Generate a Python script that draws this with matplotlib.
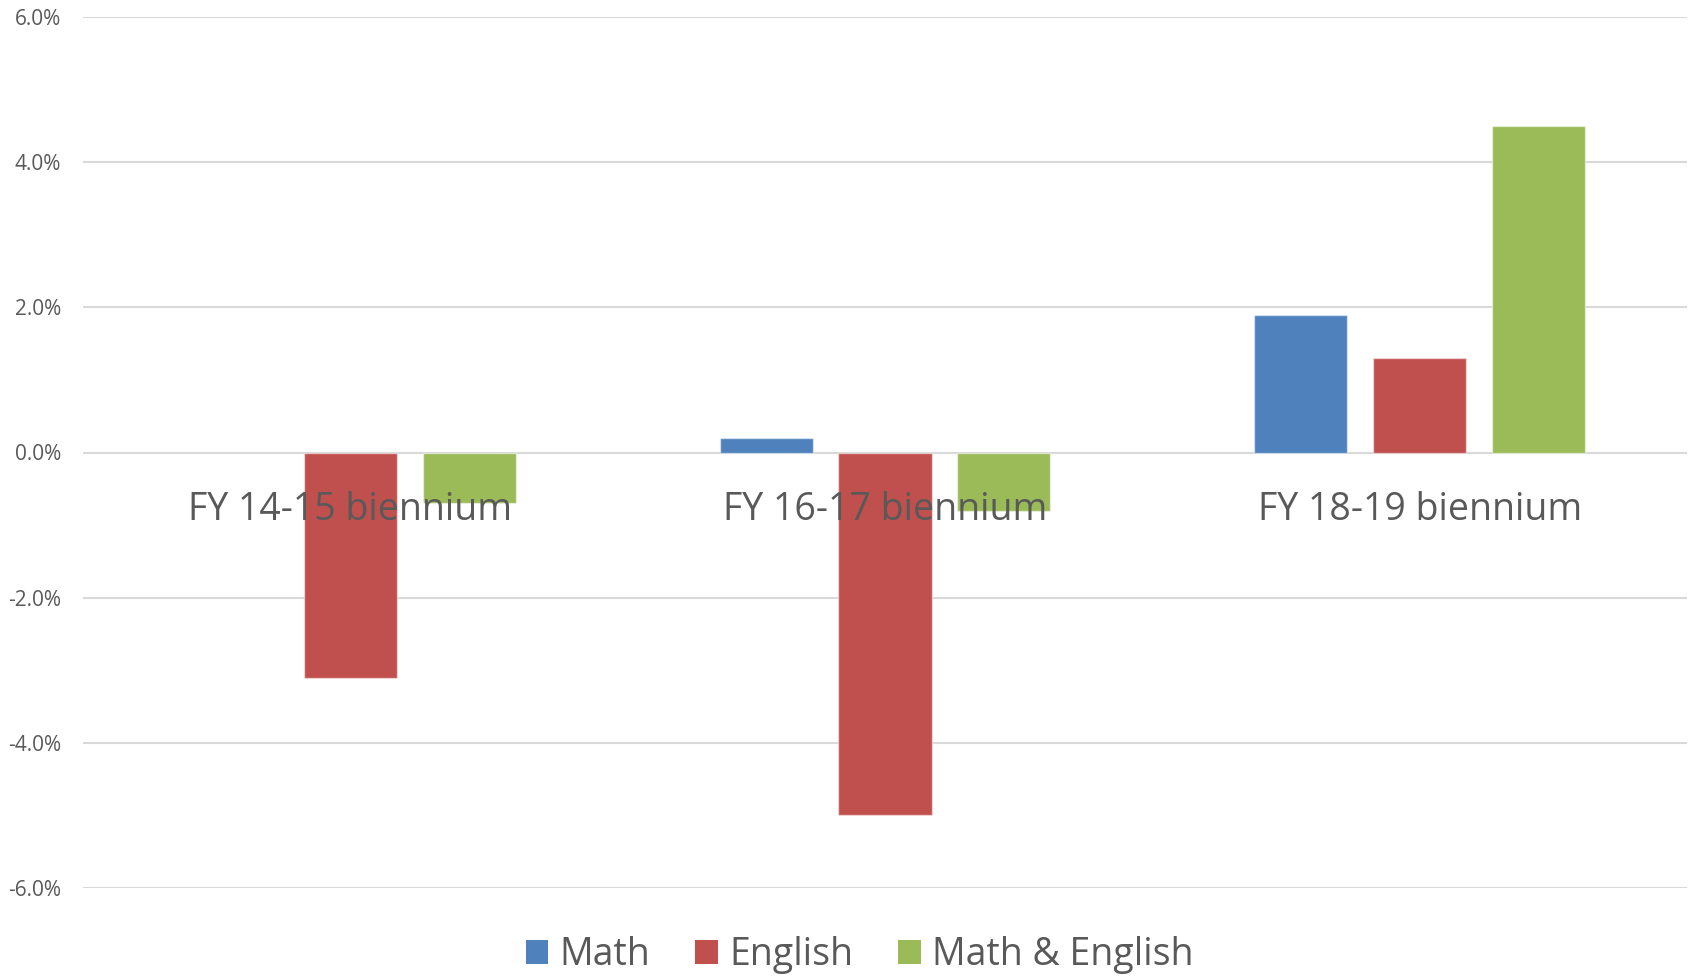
import numpy as np
import matplotlib
matplotlib.use("Agg")
import matplotlib.pyplot as plt
from matplotlib.patches import Patch
from matplotlib.ticker import FuncFormatter

categories = ["FY 14-15 biennium", "FY 16-17 biennium", "FY 18-19 biennium"]
series_names = ["Math", "English", "Math & English"]
math_vals = [np.nan, 0.2, 1.9]
english_vals = [-3.1, -5.0, 1.3]
both_vals = [-0.7, -0.8, 4.5]
y_ticks = [-6, -4, -2, 0, 2, 4, 6]

colors = ["#4F81BD", "#C0504D", "#9BBB59"]
text_color = "#595959"
font = ["Open Sans", "DejaVu Sans"]
plt.rcParams["font.family"] = font

fig = plt.figure(figsize=(16.92, 9.76), dpi=100)
ax = fig.add_axes([83 / 1692, 1 - 888 / 976, (1687 - 83) / 1692, (888 - 17) / 976])

x = np.arange(len(categories))
width = 0.174
step = 0.222
for i, (vals, c) in enumerate(zip([math_vals, english_vals, both_vals], colors)):
    ax.bar(x + (i - 1) * step, vals, width, color=c, edgecolor=(1, 1, 1, 0.5),
           linewidth=1, zorder=2, label=series_names[i])

ax.set_xlim(-0.5, 2.5)
ax.set_ylim(-6, 6)
ax.set_yticks(y_ticks)
ax.yaxis.set_major_formatter(FuncFormatter(lambda v, p: f"{v:.1f}%"))
ax.grid(axis="y", color="#D9D9D9", linewidth=1.5, zorder=0)
ax.set_axisbelow(True)
for s in ax.spines.values():
    s.set_visible(False)
ax.set_xticks([])
ax.tick_params(axis="y", length=0, pad=16, labelsize=15, labelcolor=text_color)

for xi, cat in zip(x, categories):
    ax.annotate(cat, xy=(xi, 0), xytext=(0, -57), textcoords="offset pixels",
                ha="center", va="center", fontsize=27, color=text_color, zorder=5)

handles = [Patch(facecolor=c, edgecolor="none") for c in colors]
fig.legend(handles, series_names, loc="center", bbox_to_anchor=(0.508, 1 - 955 / 976),
           ncol=3, frameon=False, fontsize=27, labelcolor=text_color,
           handlelength=0.6, handleheight=0.6, handletextpad=0.3, columnspacing=1.2)

fig.savefig("out.png", dpi=100, facecolor="white")
